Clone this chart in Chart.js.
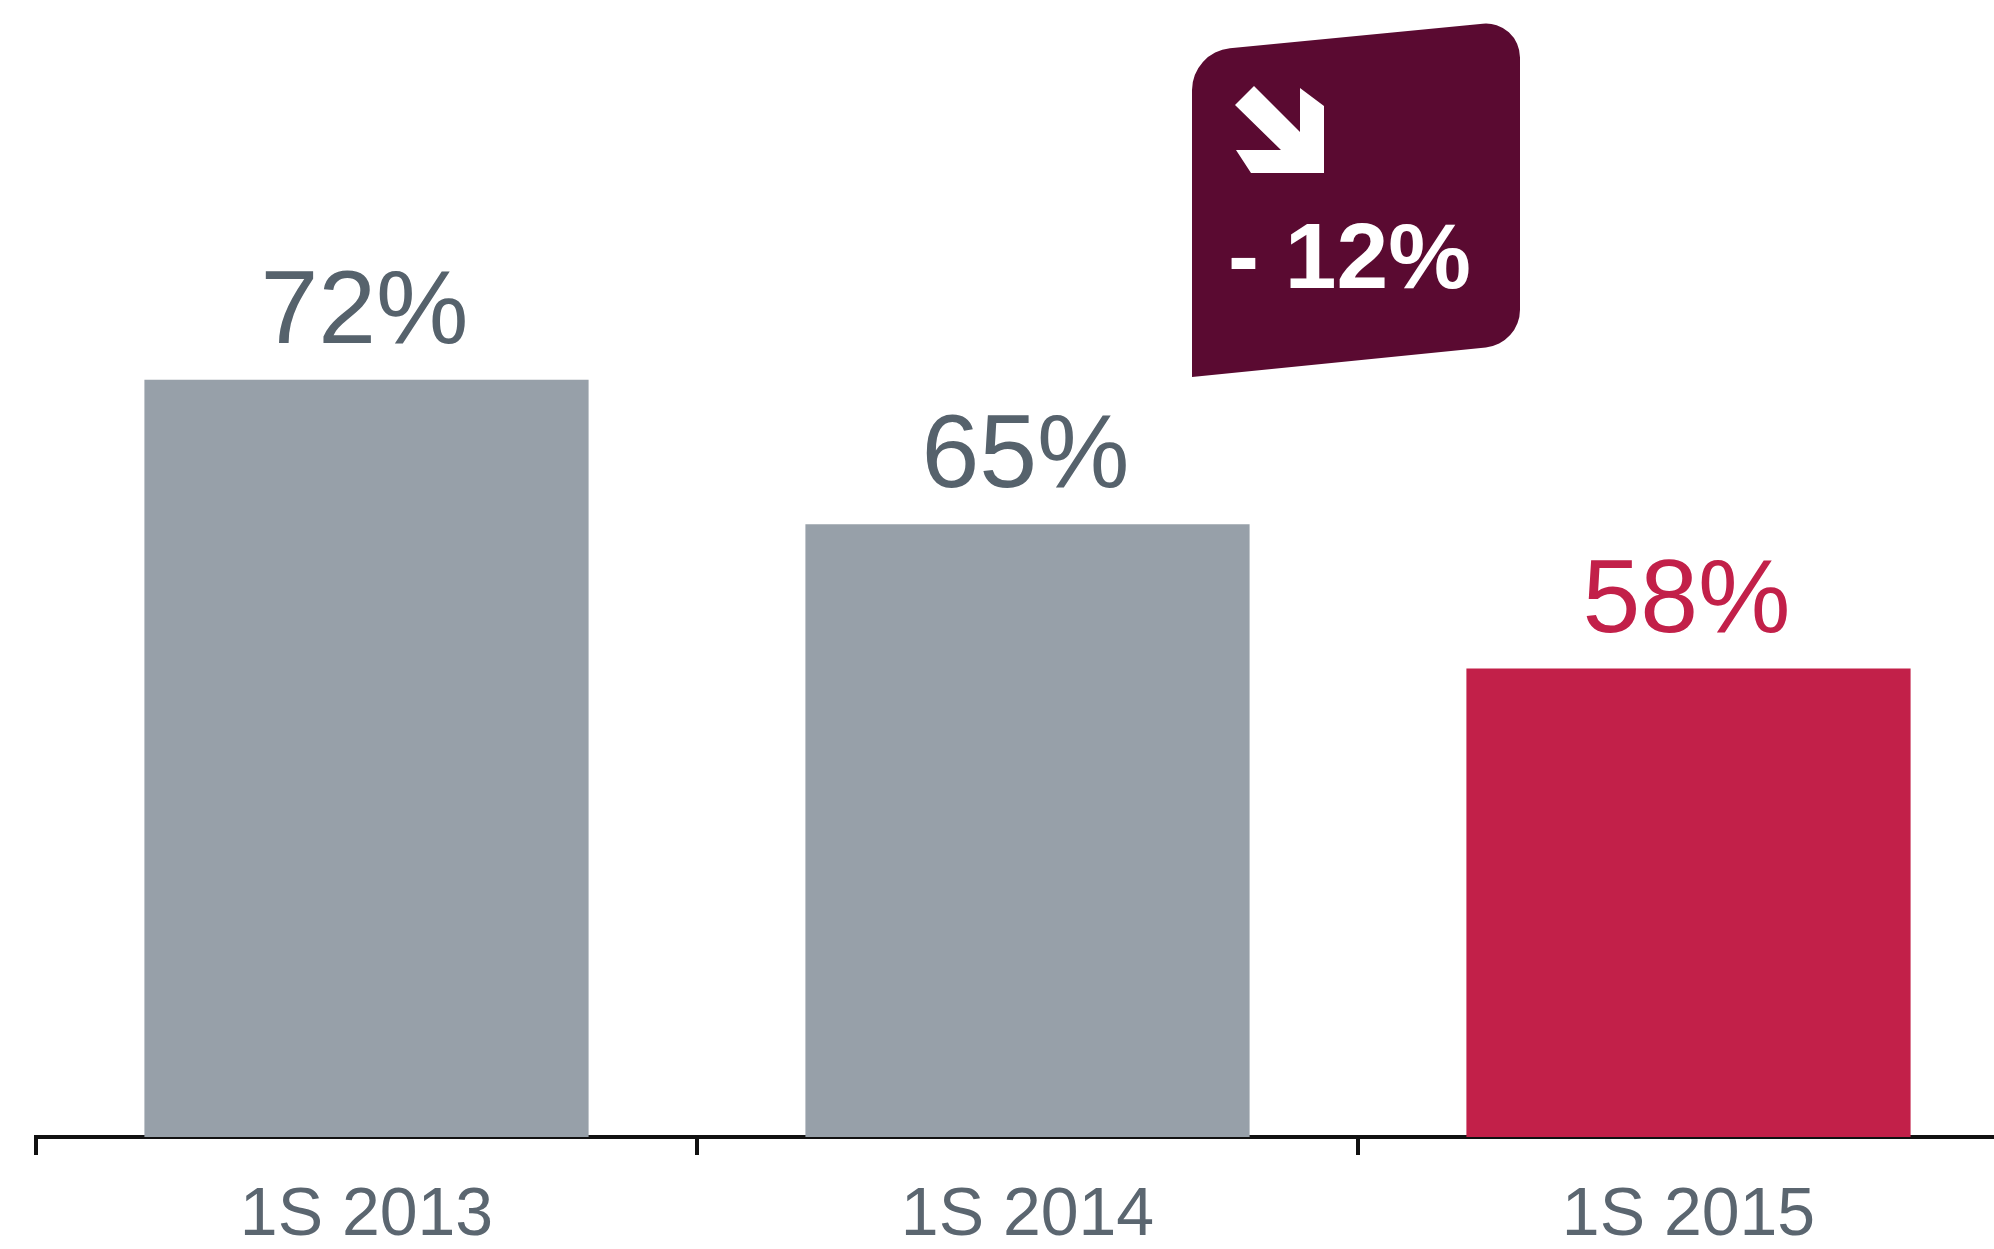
<!DOCTYPE html>
<html>
<head>
<meta charset="utf-8">
<script src="https://cdn.jsdelivr.net/npm/chart.js@4/dist/chart.umd.min.js"></script>
<style>
  html, body { margin: 0; padding: 0; background: #fff; overflow: hidden; }
  #wrap { width: 1994px; height: 1249px; overflow: hidden; }
</style>
</head>
<body>
<div id="wrap"><canvas id="rate-chart" width="2060" height="1249"></canvas></div>
<script>
// data
var categories = ['1S 2013', '1S 2014', '1S 2015'];
var shareValues = [72, 65, 58];
var changeText = '- 12%';

var FONT = "'Liberation Sans', Arial, sans-serif";
var barColors = ['#97a0a9', '#97a0a9', '#c22049'];
var labelColors = ['#56626c', '#56626c', '#c22049'];

// value labels above bars
var valueLabels = {
  id: 'valueLabels',
  afterDatasetsDraw: function(chart) {
    var ctx = chart.ctx;
    var meta = chart.getDatasetMeta(0);
    ctx.save();
    ctx.font = '104px ' + FONT;
    ctx.textAlign = 'center';
    ctx.textBaseline = 'alphabetic';
    meta.data.forEach(function(bar, i) {
      ctx.fillStyle = labelColors[i];
      ctx.fillText(shareValues[i] + '%', bar.x - 2, bar.y - 37);
    });
    ctx.restore();
  }
};

// the maroon "- 12%" tag
var changeTag = {
  id: 'changeTag',
  afterDraw: function(chart) {
    var ctx = chart.ctx;
    ctx.save();
    ctx.fillStyle = '#5a0a31';
    ctx.beginPath();
    ctx.moveTo(1192, 377);
    ctx.arcTo(1192, 52, 1520, 20, 42);
    ctx.arcTo(1520, 20, 1520, 344, 34);
    ctx.arcTo(1520, 344, 1192, 377, 38);
    ctx.lineTo(1192, 377);
    ctx.closePath();
    ctx.fill();

    // down-right arrow
    var arrow = [
      [1254, 86], [1300, 132], [1300, 88], [1324, 106], [1324, 173],
      [1251, 173], [1236, 150], [1281, 150], [1235, 105]
    ];
    ctx.fillStyle = '#fff';
    ctx.beginPath();
    arrow.forEach(function(p, i) {
      if (i === 0) ctx.moveTo(p[0], p[1]); else ctx.lineTo(p[0], p[1]);
    });
    ctx.closePath();
    ctx.fill();

    ctx.font = 'bold 93px ' + FONT;
    ctx.textAlign = 'left';
    ctx.textBaseline = 'alphabetic';
    ctx.fillText(changeText, 1228, 288);
    ctx.restore();
  }
};

var config = {
  type: 'bar',
  data: {
    labels: categories,
    datasets: [{
      data: shareValues,
      backgroundColor: barColors,
      borderWidth: 0,
      categoryPercentage: 1,
      barPercentage: 0.672
    }]
  },
  options: {
    responsive: false,
    animation: false,
    devicePixelRatio: 1,
    layout: { padding: { left: 36, right: 41, top: 0, bottom: 0 } },
    plugins: {
      legend: { display: false },
      tooltip: { enabled: false },
      title: { display: false }
    },
    scales: {
      x: {
        afterFit: function(scale) { scale.height = 112; },
        grid: {
          display: true,
          drawOnChartArea: false,
          drawTicks: true,
          tickLength: 18,
          color: '#111',
          lineWidth: 4
        },
        border: { display: true, color: '#111', width: 4 },
        ticks: {
          color: '#5b6670',
          padding: 20,
          font: { family: FONT, size: 68 }
        }
      },
      y: {
        display: false,
        min: 35.3,
        max: 90.4
      }
    }
  },
  plugins: [valueLabels, changeTag]
};

window.onload = function() {
  var ctx = document.getElementById('rate-chart').getContext('2d');
  window.rateChart = new Chart(ctx, config);
};
</script>
</body>
</html>
